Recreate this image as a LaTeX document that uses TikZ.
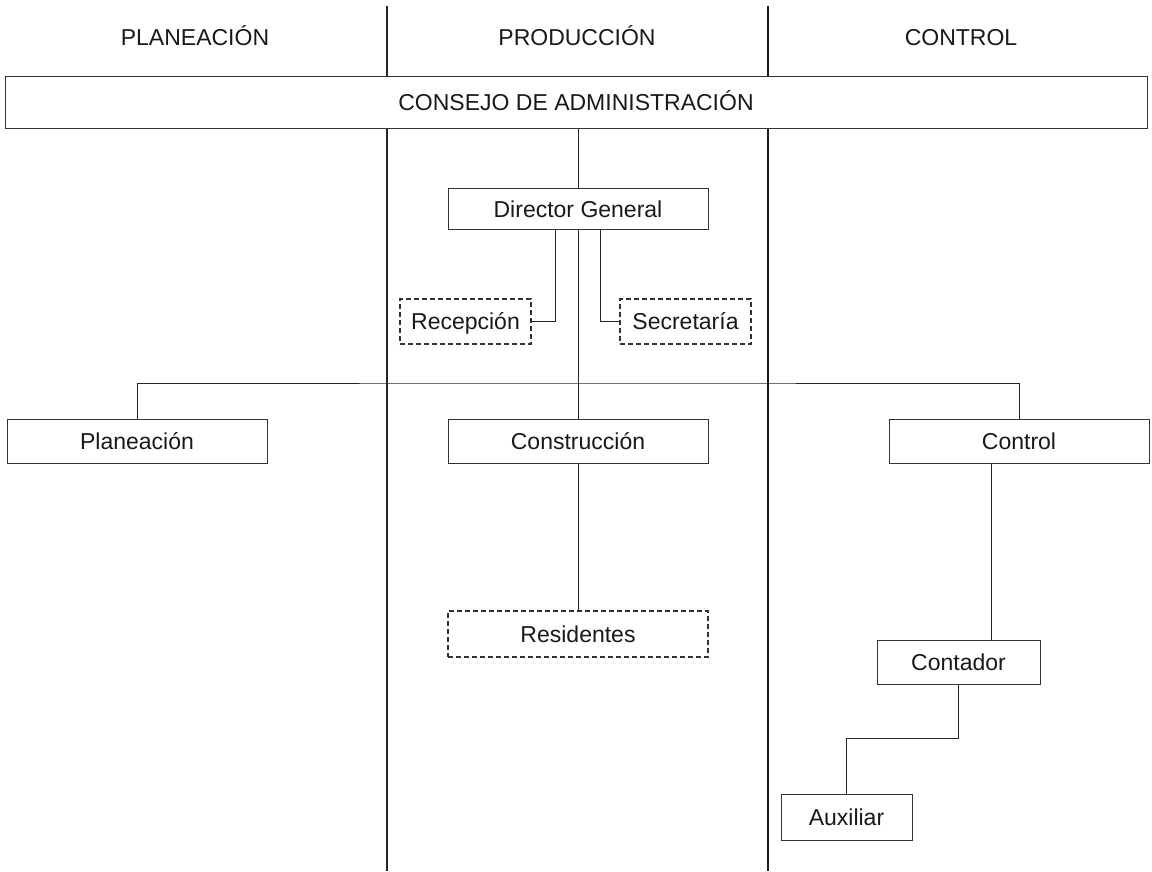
\documentclass[tikz,border=0pt]{standalone}
\usepackage{fontspec}
\setmainfont{Liberation Sans}
\begin{document}
\begin{tikzpicture}[x=1pt,y=-1pt,
  every node/.style={font=\fontsize{23}{27}\selectfont, text=black!90,
    text height=21.5pt, text depth=5pt},
  unit/.style={draw=black!80, line width=1pt, fill=white, inner sep=0pt},
  dashunit/.style={unit, dash pattern=on 5pt off 3pt, line width=1.3pt},
  link/.style={draw=black!85, line width=1pt},
  heading/.style={inner sep=0pt}]
\useasboundingbox (0,0) rectangle (1152,871);

% column dividers
\coordinate (d1top) at (387,6);
\coordinate (d1bot) at (387,871);
\coordinate (d2top) at (768,6);
\coordinate (d2bot) at (768,871);
\draw[line width=1.8pt, black!85] (d1top) -- (d1bot);
\draw[line width=2.6pt, black!90] (d2top) -- (d2bot);

% column headings
\node[heading] (hplan) at (195,37) {PLANEACIÓN};
\node[heading] (hprod) at (577,37) {PRODUCCIÓN};
\node[heading] (hctrl) at (961,37) {CONTROL};

% units
\node[unit, minimum width=1142pt, minimum height=52pt] (board) at (576,102) {CONSEJO DE ADMINISTRACIÓN};
\node[unit, minimum width=260pt, minimum height=41pt] (dir) at (578,209) {Director General};
\node[dashunit, minimum width=131pt, minimum height=45pt] (rec) at (465.5,321.5) {Recepción};
\node[dashunit, minimum width=131pt, minimum height=45pt] (sec) at (685.5,321.5) {Secretaría};
\node[unit, minimum width=260pt, minimum height=44pt] (plan) at (137,441) {Planeación};
\node[unit, minimum width=260pt, minimum height=44pt] (cons) at (578,441) {Construcción};
\node[unit, minimum width=260pt, minimum height=44pt] (ctrl) at (1019,441) {Control};
\node[dashunit, minimum width=260pt, minimum height=46pt] (res) at (578,634) {Residentes};
\node[unit, minimum width=163pt, minimum height=44pt] (cont) at (958.5,662) {Contador};
\node[unit, minimum width=131pt, minimum height=46pt] (aux) at (846.5,817) {Auxiliar};

% connectors
\coordinate (bus) at (577,383);
\coordinate (recdrop) at ([xshift=-23pt]dir.south);
\coordinate (secdrop) at ([xshift=22pt]dir.south);
\coordinate (ctrldrop) at ([xshift=-28pt]ctrl.south);
\coordinate (auxstep) at (900,738);

\draw[link] (dir.north) -- (dir.north |- board.south);
\draw[link] (recdrop) |- (rec.east);
\draw[link] (secdrop) |- (sec.west);
\draw[link] (dir.south) -- (cons.north);
\draw[link] (plan.north) |- (bus) -| (ctrl.north);
\draw[link] (cons.south) -- (res.north);
\draw[link] (ctrldrop) -- (ctrldrop |- cont.north);
\draw[link] (cont.south) |- (auxstep) -| (aux.north);
\end{tikzpicture}
\end{document}
